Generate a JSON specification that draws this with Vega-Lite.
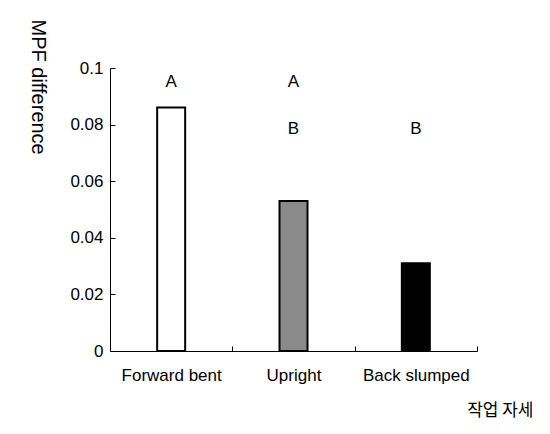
{
  "$schema": "https://vega.github.io/schema/vega-lite/v6.json",
  "autosize": "none",
  "width": 367,
  "height": 283,
  "padding": {"left": 110, "top": 68, "right": 73, "bottom": 83},
  "background": "white",
  "config": {
    "view": {"stroke": null},
    "font": "Liberation Sans",
    "axis": {"grid": false, "domainColor": "black", "tickColor": "black", "labelColor": "black", "titleColor": "black", "labelFont": "Liberation Sans", "titleFont": "Liberation Sans", "titleFontWeight": "normal", "domainWidth": 1, "tickWidth": 1}
  },
  "datasets": {
    "bars": [
      {"posture": "Forward bent", "mpf": 0.086},
      {"posture": "Upright", "mpf": 0.053},
      {"posture": "Back slumped", "mpf": 0.031}
    ],
    "letters": [
      {"posture": "Forward bent", "letter": "A", "level": 0.095},
      {"posture": "Upright", "letter": "A", "level": 0.095},
      {"posture": "Upright", "letter": "B", "level": 0.0785},
      {"posture": "Back slumped", "letter": "B", "level": 0.0785}
    ]
  },
  "layer": [
    {
      "data": {"name": "bars"},
      "mark": {"type": "bar", "size": 28, "stroke": "black", "strokeWidth": 2},
      "encoding": {
        "x": {
          "field": "posture", "type": "nominal",
          "sort": ["Forward bent", "Upright", "Back slumped"],
          "scale": {"paddingInner": 0, "paddingOuter": 0},
          "axis": {
            "labelAngle": 0, "labelFontSize": 17, "labelPadding": 21, "tickSize": -5, "tickBand": "extent",
            "title": "작업 자세", "titleFont": "Noto Sans CJK KR", "titleFontSize": 17,
            "titleAnchor": "end", "titleAlign": "right", "titleBaseline": "middle", "titleX": 423, "titleY": 59
          }
        },
        "y": {
          "field": "mpf", "type": "quantitative",
          "scale": {"domain": [0, 0.1], "nice": false},
          "axis": {
            "values": [0, 0.02, 0.04, 0.06, 0.08, 0.1], "format": "~g",
            "labelFontSize": 17, "labelPadding": 12, "tickSize": -5,
            "title": "MPF difference", "titleFontSize": 20, "titleAngle": 90,
            "titleAlign": "left", "titleBaseline": "middle", "titleX": -73, "titleY": -49
          }
        },
        "color": {
          "field": "posture", "type": "nominal",
          "scale": {"domain": ["Forward bent", "Upright", "Back slumped"], "range": ["#ffffff", "#8a8a8a", "#000000"]},
          "legend": null
        }
      }
    },
    {
      "data": {"name": "letters"},
      "mark": {"type": "text", "fontSize": 17, "font": "Liberation Sans", "color": "black", "baseline": "middle"},
      "encoding": {
        "x": {"field": "posture", "type": "nominal", "sort": ["Forward bent", "Upright", "Back slumped"]},
        "y": {"field": "level", "type": "quantitative"},
        "text": {"field": "letter"}
      }
    }
  ]
}
